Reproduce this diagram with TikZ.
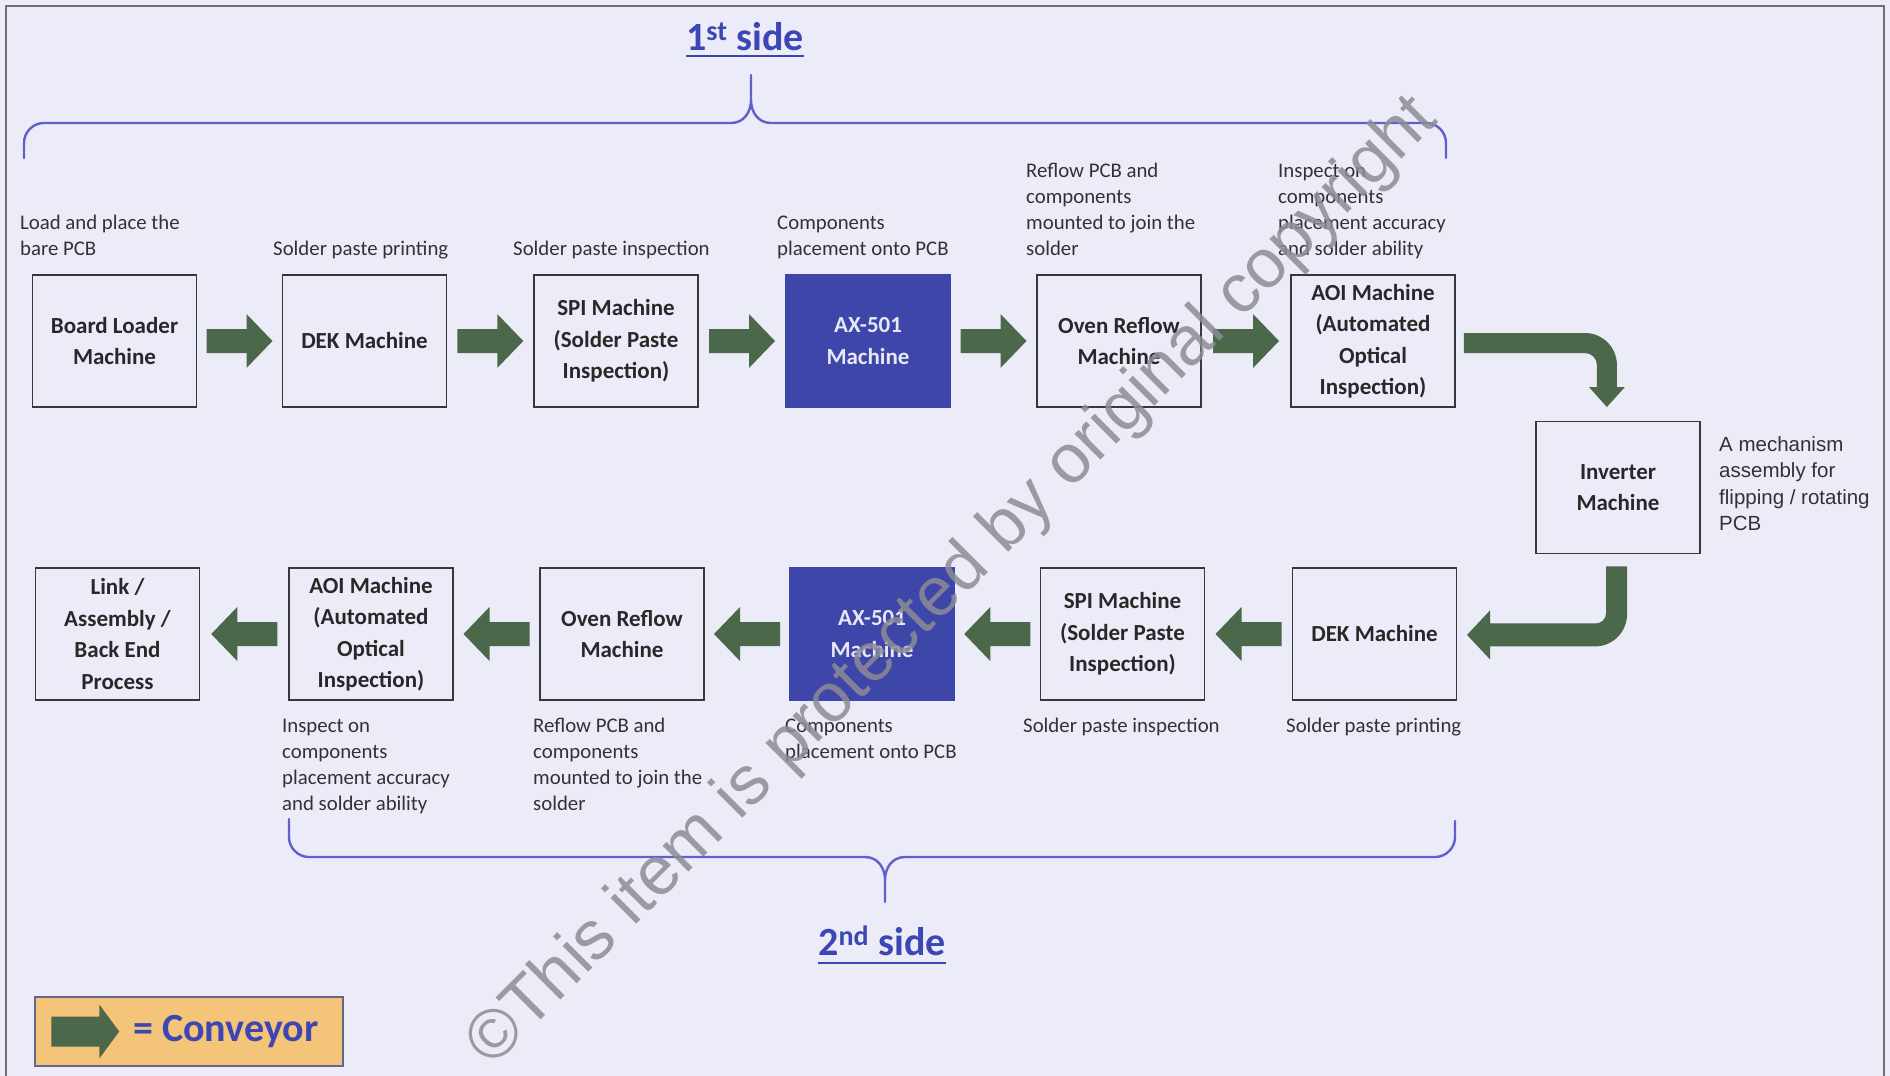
\documentclass[tikz,border=0pt]{standalone}
\usepackage{fontspec}
\setmainfont{Carlito}
\newfontfamily\arialf{Liberation Sans}
\usetikzlibrary{calc}

\definecolor{bgc}{RGB}{236,236,248}
\definecolor{convg}{RGB}{76,104,74}
\definecolor{axblue}{RGB}{62,70,170}
\definecolor{axtext}{RGB}{232,232,245}
\definecolor{braceblue}{RGB}{95,95,205}
\definecolor{titleblue}{RGB}{60,70,180}
\definecolor{legendfill}{RGB}{244,196,120}
\definecolor{legendline}{RGB}{100,100,140}
\definecolor{boxline}{RGB}{55,55,60}
\definecolor{boxtext}{RGB}{40,40,40}
\definecolor{captext}{RGB}{50,50,50}
\definecolor{framec}{RGB}{110,110,115}
\definecolor{wmark}{RGB}{140,140,148}

\newcommand\boxfont{\bfseries\fontsize{23}{31.5}\selectfont}
\newcommand\capfont{\fontsize{20.8}{26}\selectfont}
\newcommand\invfont{\arialf\fontsize{20.5}{26.5}\selectfont}
\newcommand\titlefont{\bfseries\fontsize{40}{48}\selectfont}

\newcommand\convright[2]{%
  \fill[convg] ($(#1.east)!0.5!(#2.west)$) ++(-33,-12) -- ++(40,0) -- ++(0,-15)
    -- ++(26,27) -- ++(-26,27) -- ++(0,-15) -- ++(-40,0) -- cycle;}
\newcommand\convleft[2]{%
  \fill[convg] ($(#1.west)!0.5!(#2.east)$) ++(33,-12) -- ++(-40,0) -- ++(0,-15)
    -- ++(-26,27) -- ++(26,27) -- ++(0,-15) -- ++(40,0) -- cycle;}

\begin{document}
\begin{tikzpicture}[x=1pt,y=-1pt,
  machine/.style={draw=boxline, line width=1.8pt, minimum width=164pt,
    minimum height=132pt, inner sep=0pt, align=center, font=\boxfont, text=boxtext},
  bluemachine/.style={machine, draw=axblue, fill=axblue, text=axtext},
  caption/.style={inner sep=0pt, align=left, font=\capfont, text=captext},
  invcaption/.style={inner sep=0pt, align=left, font=\invfont, text=captext},
  title/.style={inner sep=0pt, font=\titlefont, text=titleblue},
  brace/.style={draw=braceblue, line width=2.4pt, line cap=round, line join=round},
]
\useasboundingbox (0,0) rectangle (1890,1076);
\fill[bgc] (0,0) rectangle (1890,1076);
\draw[framec, line width=1.5pt] (6,1076) -- (6,6) -- (1884,6) -- (1884,1076);

% top row
\node[machine] (bl) at (114.5,341) {Board Loader\\Machine};
\node[machine] (dek1) at (364.5,341) {DEK Machine};
\node[machine] (spi1) at (616,341) {SPI Machine\\(Solder Paste\\Inspection)};
\node[bluemachine] (ax1) at (868,341) {AX-501\\Machine};
\node[machine] (ov1) at (1119,341) {Oven Reflow\\Machine};
\node[machine] (aoi1) at (1373,341) {AOI Machine\\(Automated\\Optical\\Inspection)};
\node[machine] (inv) at (1618,487.5) {Inverter\\Machine};
% bottom row
\node[machine] (lnk) at (117.5,634) {Link /\\Assembly /\\Back End\\Process};
\node[machine] (aoi2) at (371,634) {AOI Machine\\(Automated\\Optical\\Inspection)};
\node[machine] (ov2) at (622,634) {Oven Reflow\\Machine};
\node[bluemachine] (ax2) at (872,634) {AX-501\\Machine};
\node[machine] (spi2) at (1122.5,634) {SPI Machine\\(Solder Paste\\Inspection)};
\node[machine] (dek2) at (1374.5,634) {DEK Machine};

% top captions
\node[caption, anchor=south west] (c1) at (20,263) {Load and place the\\bare PCB\strut};
\node[caption, anchor=south west] (c2) at (273,263) {Solder paste printing\strut};
\node[caption, anchor=south west] (c3) at (513,263) {Solder paste inspection\strut};
\node[caption, anchor=south west] (c4) at (777,263) {Components\\placement onto PCB\strut};
\node[caption, anchor=south west] (c5) at (1026,263) {Reflow PCB and\\components\\mounted to join the\\solder\strut};
\node[caption, anchor=south west] (c6) at (1278,263) {Inspect on\\components\\placement accuracy\\and solder ability\strut};
% bottom captions
\node[caption, anchor=north west] (d1) at (282,714) {\strut Inspect on\\components\\placement accuracy\\and solder ability};
\node[caption, anchor=north west] (d2) at (533,714) {\strut Reflow PCB and\\components\\mounted to join the\\solder};
\node[caption, anchor=north west] (d3) at (785,714) {\strut Components\\placement onto PCB};
\node[caption, anchor=north west] (d4) at (1023,714) {\strut Solder paste inspection};
\node[caption, anchor=north west] (d5) at (1286,714) {\strut Solder paste printing};
\node[invcaption, anchor=north west] (invc) at (1719,432.5) {\strut A mechanism\\assembly for\\flipping / rotating\\PCB};

% straight conveyors
\convright{bl}{dek1}
\convright{dek1}{spi1}
\convright{spi1}{ax1}
\convright{ax1}{ov1}
\convright{ov1}{aoi1}
\convleft{dek2}{spi2}
\convleft{spi2}{ax2}
\convleft{ax2}{ov2}
\convleft{ov2}{aoi2}
\convleft{aoi2}{lnk}

% bent conveyor AOI -> Inverter
\begin{scope}[shift={(aoi1.east)}]
\fill[convg] (8,-8) -- (129,-8) .. controls (146.7,-8) and (161,6.3) .. (161,24)
  -- (161,46) -- (169,46) -- (151,66) -- (133,46) -- (141,46) -- (141,24)
  .. controls (141,17.4) and (135.6,12) .. (129,12) -- (8,12) -- cycle;
\end{scope}
% bent conveyor Inverter -> DEK
\begin{scope}[shift={(inv.south)}]
\fill[convg] (-12,12) -- (9,12) -- (9,60) .. controls (9,77.7) and (-5.3,92) .. (-23,92)
  -- (-128,92) -- (-128,105) -- (-151,80.5) -- (-128,56) -- (-128,69) -- (-22,69)
  .. controls (-16.5,69) and (-12,64.5) .. (-12,59) -- cycle;
\end{scope}

% braces
\draw[brace] (24,158) -- (24,143) .. controls (24,132) and (33,123) .. (44,123)
  -- (731,123) .. controls (744,123) and (751,112) .. (751,100) -- (751,75)
  (751,100) .. controls (751,112) and (758,123) .. (771,123)
  -- (1426,123) .. controls (1437,123) and (1446,132) .. (1446,143) -- (1446,158);
\draw[brace] (289,819) -- (289,837) .. controls (289,848) and (298,857) .. (309,857)
  -- (865,857) .. controls (878,857) and (885,868) .. (885,880) -- (885,902)
  (885,880) .. controls (885,868) and (892,857) .. (905,857)
  -- (1435,857) .. controls (1446,857) and (1455,848) .. (1455,837) -- (1455,821);

% titles
\node[title, anchor=base] (side1) at (745,50) {1\textsuperscript{st} side};
\draw[titleblue, line width=2.2pt] ([yshift=-6pt]side1.base west) -- ([yshift=-6pt]side1.base east);
\node[title, anchor=base] (side2) at (882,955) {2\textsuperscript{nd} side};
\draw[titleblue, line width=2.2pt] ([yshift=-8pt]side2.base west) -- ([yshift=-8pt]side2.base east);

% legend
\node[draw=legendline, line width=1.5pt, fill=legendfill, minimum width=308pt,
  minimum height=69pt, inner sep=0pt] (legend) at (189,1031.5) {};
\begin{scope}[shift={(legend.west)}]
\fill[convg] (17,-15) -- (65,-15) -- (65,-27) -- (85,0) -- (65,27) -- (65,15) -- (17,15) -- cycle;
\end{scope}
\node[title, anchor=west] (legtxt) at (133,1032) {= Conveyor};

% watermark
\node[rotate=45, anchor=base west, inner sep=0pt, text=wmark, opacity=0.85,
  font=\arialf\fontsize{69}{80}\selectfont] (wm) at (492,1069) {©This item is protected by original copyright};
\end{tikzpicture}
\end{document}
